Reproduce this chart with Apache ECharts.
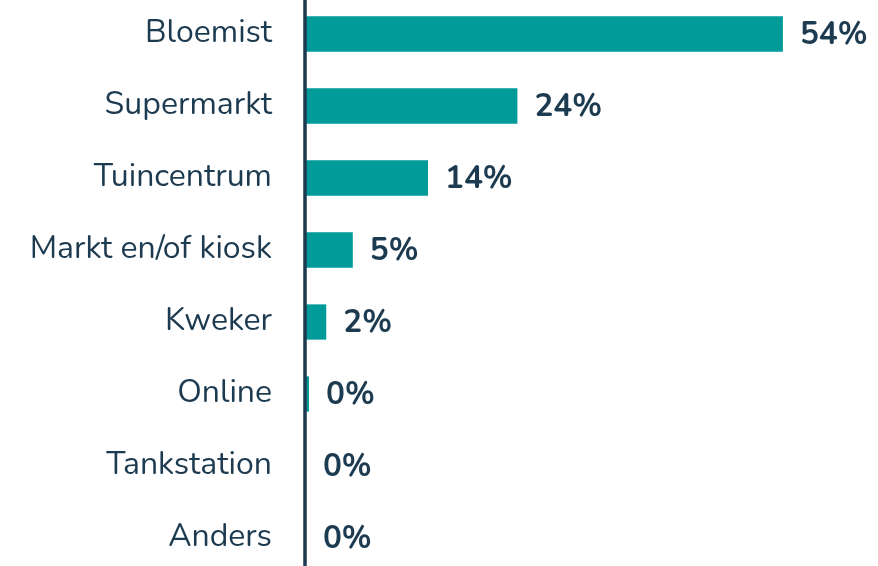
<!DOCTYPE html>
<html>
<head>
<meta charset="utf-8">
<script src="https://cdn.jsdelivr.net/npm/echarts@6/dist/echarts.min.js"></script>
<style>
  html, body { margin: 0; padding: 0; background: #ffffff; overflow: hidden; }
  #chart { width: 878px; height: 576px; position: absolute; left: 0; top: -2px; }
</style>
</head>
<body>
<div id="chart"></div>
<script>
// Where people buy flowers (share of respondents, %)
const categories = ['Bloemist', 'Supermarkt', 'Tuincentrum', 'Markt en/of kiosk', 'Kweker', 'Online', 'Tankstation', 'Anders'];
const shares = [54, 24, 13.9, 5.4, 2.4, 0.45, 0.1, 0.1];

const ink = '#1d3b50';
const teal = '#009a98';
const fontFamily = 'Nunito, Lato, "Noto Sans", sans-serif';

const chart = echarts.init(document.getElementById('chart'), null, { renderer: 'canvas' });
chart.setOption({
  animation: false,
  grid: { left: 305, right: 42, top: 0, bottom: 0, containLabel: false },
  xAxis: {
    type: 'value',
    min: 0,
    max: 60,
    show: false
  },
  yAxis: {
    type: 'category',
    data: categories,
    inverse: true,
    axisLine: { show: true, lineStyle: { color: ink, width: 3.5 } },
    axisTick: { show: false },
    axisLabel: {
      color: ink,
      fontFamily: fontFamily,
      fontSize: 32,
      margin: 33
    },
    z: 5
  },
  series: [{
    type: 'bar',
    data: shares,
    barCategoryGap: '51%',
    itemStyle: { color: teal },
    label: {
      show: true,
      position: 'right',
      distance: 17,
      offset: [0, 2],
      color: ink,
      fontFamily: fontFamily,
      fontWeight: 'bold',
      fontSize: 31.5,
      formatter: p => Math.round(p.value) + '%'
    }
  }]
});
</script>
</body>
</html>
